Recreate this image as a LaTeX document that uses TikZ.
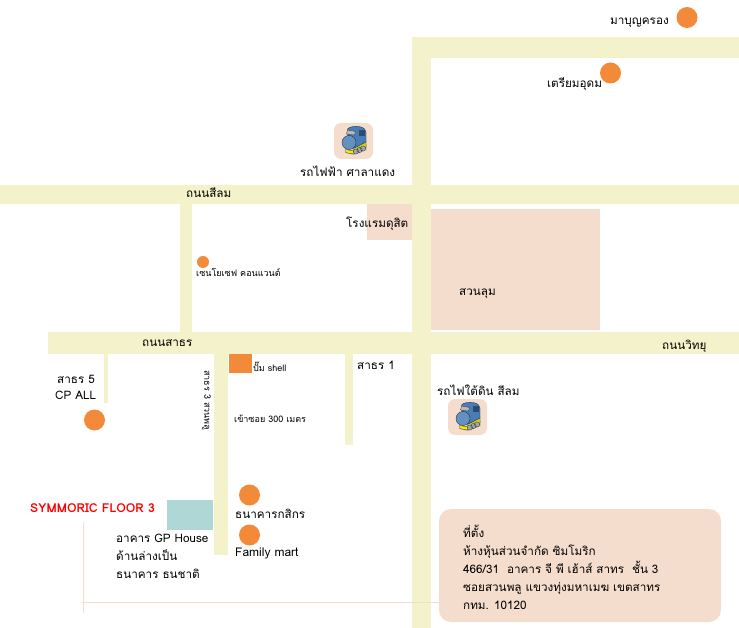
\documentclass[tikz,border=0pt]{standalone}
\usepackage{fontspec}
\setmainfont{Liberation Sans}
\newfontfamily\thaifont[Script=Thai]{Loma}
\usetikzlibrary{positioning}
\definecolor{roadcol}{HTML}{F4F2CA}
\definecolor{peachcol}{HTML}{F5DDCE}
\definecolor{spotcol}{HTML}{F28A3A}
\definecolor{tealcol}{HTML}{AED7D5}
\definecolor{engblue}{HTML}{4A7DB5}
\definecolor{engdark}{HTML}{1F3550}
\tikzstyle{road} = [fill=roadcol, draw=none]
\tikzstyle{peach} = [fill=peachcol, draw=none]
\tikzstyle{spot} = [circle, fill=spotcol, draw=none, inner sep=0pt, minimum size=21pt]
\tikzstyle{place} = [inner sep=0pt, anchor=base west, font=\thaifont\fontsize{11.7}{14}\selectfont]
\tikzstyle{small} = [inner sep=0pt, anchor=base west, font=\thaifont\fontsize{9}{11}\selectfont]
\tikzstyle{trainbox} = [rectangle, fill=peachcol, rounded corners=7pt, minimum width=39pt, minimum height=36pt, inner sep=0pt]
\tikzstyle{link} = [draw=peachcol, line width=0.8pt]
% little blue engine on its peach tile
\newcommand{\engine}[1]{
	\begin{scope}[shift={(#1)}]
		\fill[olive!45!gray!60] (-8,12) -- (13,3) -- (13,9) -- (0,14) -- cycle;
		\fill[yellow!70!olive,draw=engdark,line width=0.3pt] (0,7) -- (12.5,0) -- (12.5,6) -- (1,12) -- cycle;
		\fill[engblue,draw=engdark,line width=0.4pt] (-6,-12) .. controls (-3,-15.5) and (8,-15.5) .. (11,-12) -- (12.5,-9) -- (12.5,1) -- (1,7) -- (-6,0) -- cycle;
		\fill[engdark!70!engblue] (5,-11) rectangle (11,-5);
		\fill[gray!55!white,draw=engdark,line width=0.3pt] (-6,-11) -- (2,-9.5) -- (1,-6) -- (-7,-7) -- cycle;
		\fill[engblue!85!white,draw=engdark,line width=0.4pt] (-4.5,1.5) ellipse (7pt and 7pt);
		\fill[yellow!90!orange,draw=engdark,line width=0.3pt] (-8,8.5) -- (0,10) -- (0,13) -- (-8,11.5) -- cycle;
		\fill[gray!70,draw=engdark,line width=0.3pt] (2.5,10.5) circle (2.6pt) (6,9) circle (2.6pt) (9.5,7.5) circle (2.6pt);
	\end{scope}
}
\begin{document}
\begin{tikzpicture}[x=1pt, y=-1pt]
	\useasboundingbox (0,0) rectangle (739,628);
	% roads
	\fill[road] (412,37) rectangle (739,58);
	\fill[road] (412,37) rectangle (431,628);
	\fill[road] (0,185) rectangle (739,204);
	\fill[road] (180,204) rectangle (192,332);
	\fill[road] (48,332) rectangle (739,354);
	\fill[road] (104,354) rectangle (108,403);
	\fill[road] (214,354) rectangle (228,555);
	\fill[road] (345,354) rectangle (353,445);
	% areas
	\fill[peach] (367,204) rectangle (412,240);
	\fill[peach] (431,209) rectangle (600,330);
	\fill[spotcol] (229,354) rectangle (252,373);
	\fill[tealcol] (167,500) rectangle (213,530);
	% link to address box
	\coordinate (linktop) at (83,522);
	\coordinate (linkend) at (83,613);
	\coordinate (linkleft) at (82,602.5);
	\draw[link] (linktop) -- (linkend);
	\node [peach, rounded corners=12pt, minimum width=282pt, minimum height=113pt, inner sep=0pt] (address) at (580,565.5) {};
	\draw[link] (linkleft) -- (linkleft -| address.west);
	% spots
	\node [spot] (mbk) at (687,17.5) {};
	\node [spot] (triam) at (610.5,73) {};
	\node [spot] (cpall) at (94.5,420) {};
	\node [spot] (kbank) at (249.5,495) {};
	\node [spot] (fmart) at (249.5,535) {};
	\node [circle, fill=spotcol, inner sep=0pt, minimum size=12pt] (school) at (203,262) {};
	% stations
	\node [trainbox] (bts) at (353.5,141) {};
	\node [trainbox] (mrt) at (467.5,417) {};
	\engine{bts}
	\engine{mrt}
	% labels
	\node [place] (mbklabel) at (610,25) {มาบุญครอง};
	\node [place] (triamlabel) at (547,88) {เตรียมอุดม};
	\node [place] (btslabel) at (300,177) {รถไฟฟ้า ศาลาแดง};
	\node [place] (silom) at (186,198) {ถนนสีลม};
	\node [place] (dusit) at (346,228) {โรงแรมดุสิต};
	\node [small] (schoollabel) at (196,277) {เซนโยเซฟ คอนแวนต์};
	\node [place] (lumpini) at (459,296) {สวนลุม};
	\node [place] (sathorn) at (142,347) {ถนนสาธร};
	\node [place] (witthayu) at (662,349) {ถนนวิทยุ};
	\node [place] (soifive) at (57,383) {สาธร 5};
	\node [place] (cplabel) at (55,399) {CP ALL};
	\node [small] (shell) at (253,371.5) {ปั๊ม shell};
	\node [place] (soione) at (357,370) {สาธร 1};
	\node [small, rotate=-90, anchor=north west] (soithree) at (211,370) {สาธร 3 สวนพลู};
	\node [small] (enter) at (234,422) {เข้าซอย 300 เมตร};
	\node [place] (mrtlabel) at (437,395) {รถไฟใต้ดิน สีลม};
	\node [place, text=red, font=\thaifont\bfseries\fontsize{12.3}{14}\selectfont] (firm) at (30,512) {SYMMORIC FLOOR 3};
	\node [place] (kbanklabel) at (235,518) {ธนาคารกสิกร};
	\node [place, font=\thaifont\fontsize{12}{14}\selectfont] (fmartlabel) at (235,556) {Family mart};
	\node [place] (gpone) at (116,542) {อาคาร GP House};
	\node [place] (gptwo) at (116,560) {ด้านล่างเป็น};
	\node [place] (gpthree) at (116,578) {ธนาคาร ธนชาติ};
	\node [place] (addrone) at (463,537) {ที่ตั้ง};
	\node [place] (addrtwo) at (463,555) {ห้างหุ้นส่วนจำกัด ซิมโมริก};
	\node [place] (addrthree) at (463,573) {466/31\ \ อาคาร จี พี เฮ้าส์ สาทร\ \ ชั้น 3};
	\node [place] (addrfour) at (463,591) {ซอยสวนพลู แขวงทุ่งมหาเมฆ เขตสาทร};
	\node [place] (addrfive) at (463,609) {กทม. 10120};
\end{tikzpicture}
\end{document}
